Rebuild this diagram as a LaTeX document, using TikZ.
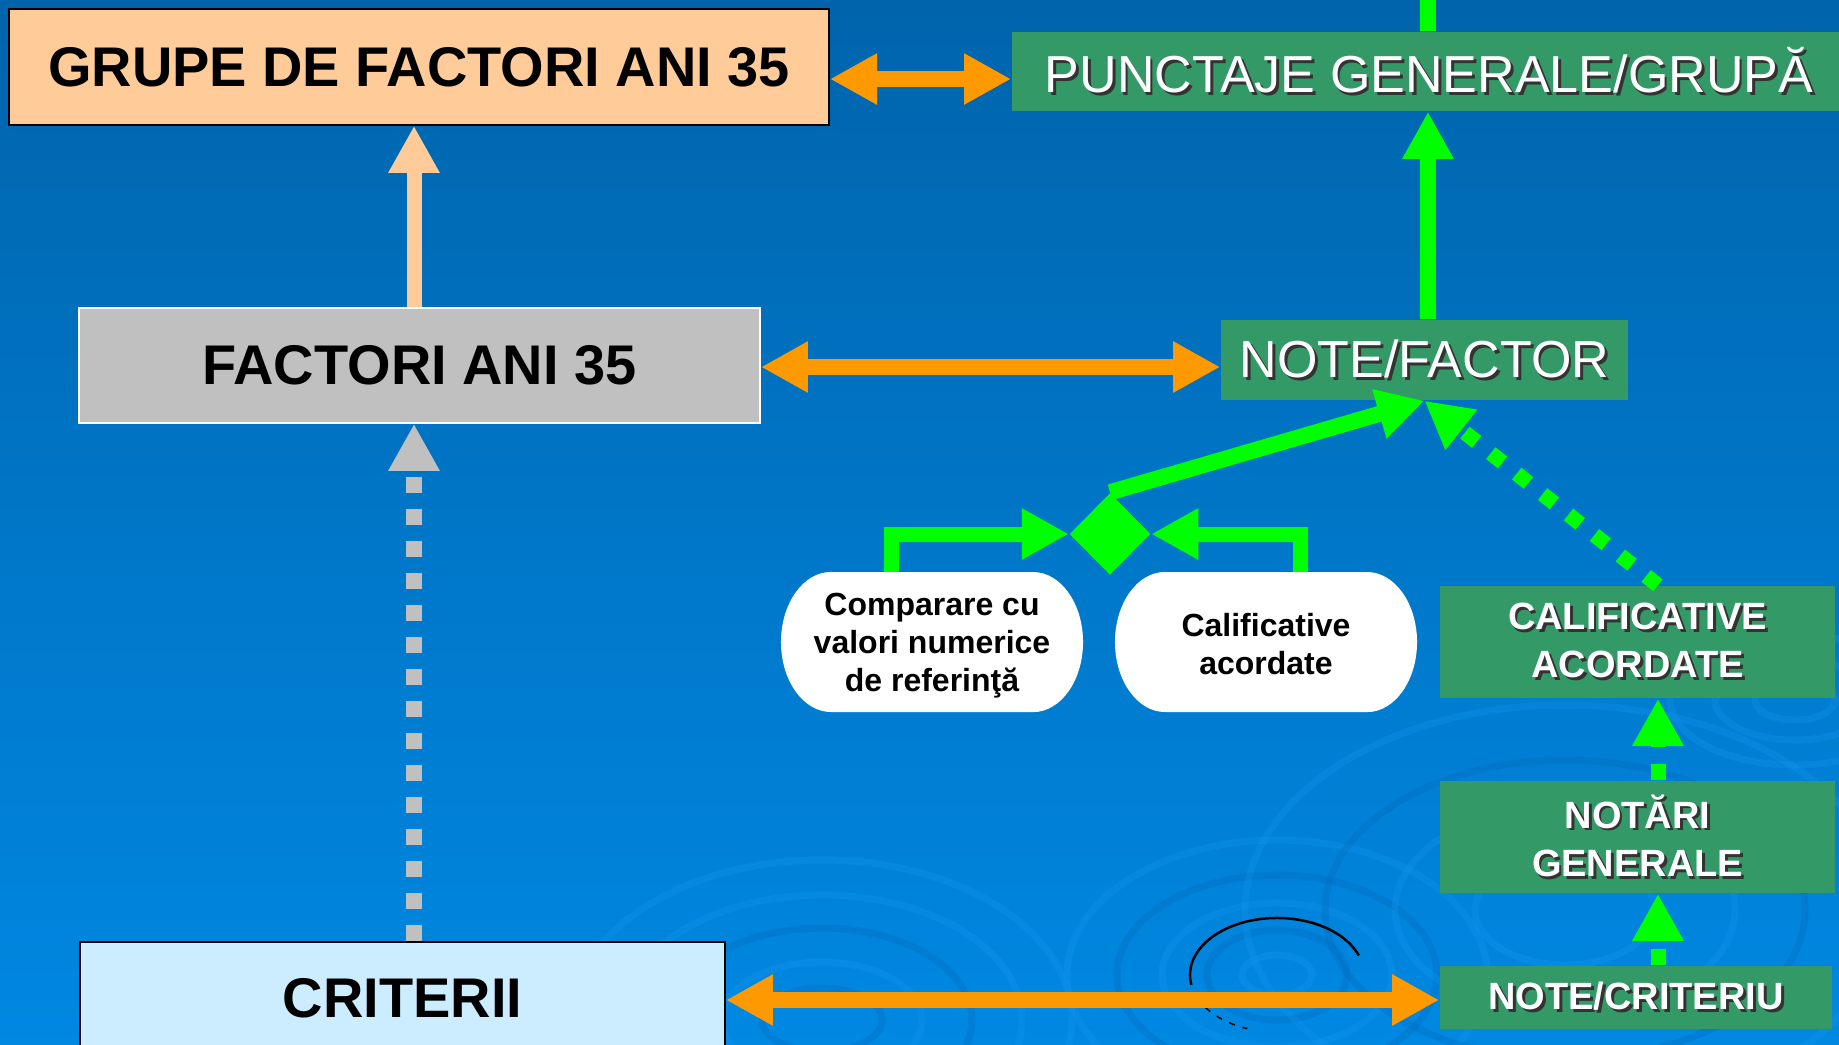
\documentclass[tikz,border=0pt]{standalone}
\usepackage{fontspec}
\setmainfont{Liberation Sans}
\usetikzlibrary{arrows.meta,shapes.geometric,calc}
\definecolor{bgtop}{RGB}{0,100,172}
\definecolor{bgbot}{RGB}{0,136,226}
\definecolor{peach}{HTML}{FFCC99}
\definecolor{grayb}{HTML}{C0C0C0}
\definecolor{lblue}{HTML}{CCECFF}
\definecolor{boxgreen}{HTML}{339966}
\definecolor{lime}{HTML}{00FF00}
\definecolor{orng}{HTML}{FF9900}
\definecolor{ripl}{RGB}{20,150,240}
\definecolor{ripd}{RGB}{0,105,185}
\newcommand\shd[1]{\leavevmode\rlap{\kern0.8pt\raisebox{-0.8pt}{\textcolor{black!80}{#1}}}#1}
\begin{document}
\begin{tikzpicture}[x=0.01cm,y=-0.01cm,
  tipa/.style={-{Triangle[length=4.7mm,width=4.8mm]}},
  dtipa/.style={{Triangle[length=4.7mm,width=4.8mm]}-{Triangle[length=4.7mm,width=4.8mm]}},
  bigtxt/.style={font=\fontsize{15.9}{19}\selectfont\bfseries, text=black},
  whitetxt/.style={font=\fontsize{14.8}{17}\selectfont, text=white},
  grntxt/.style={font=\fontsize{10.8}{13.66}\selectfont\bfseries, text=white, align=center},
  shapetxt/.style={font=\fontsize{9.1}{10.8}\selectfont\bfseries, text=black, align=center},
  gbox/.style={fill=boxgreen, inner sep=0pt},
  orarrow/.style={orng, line width=0.16cm, dtipa},
  grline/.style={lime, line width=0.16cm},
  ripple/.style={line width=0.07cm, opacity=0.3}
]
\useasboundingbox (0,0) rectangle (1839,1044);
\shade[top color=bgtop, bottom color=bgbot] (0,0) rectangle (1839,1044);
\clip (0,0) rectangle (1839,1044);

% background ripples
\foreach \rx/\ry/\c in {60/32/ripd, 100/58/ripl, 150/92/ripd, 200/125/ripl, 250/160/ripl}
  \draw[ripple, \c] (822,1020) ellipse [x radius=\rx*0.01cm, y radius=\ry*0.01cm];
\foreach \rx/\ry/\c in {35/20/ripl, 70/45/ripd, 115/72/ripl, 160/100/ripd, 210/135/ripl}
  \draw[ripple, \c] (1277,975) ellipse [x radius=\rx*0.01cm, y radius=\ry*0.01cm];
\foreach \rx/\ry/\c in {90/55/ripl, 170/105/ripl, 240/150/ripd, 320/205/ripl}
  \draw[ripple, \c] (1565,910) ellipse [x radius=\rx*0.01cm, y radius=\ry*0.01cm];
\foreach \rx/\ry/\c in {40/20/ripl, 80/40/ripl, 125/65/ripl}
  \draw[ripple, \c] (1795,700) ellipse [x radius=\rx*0.01cm, y radius=\ry*0.01cm];
\draw[black, line width=0.025cm] (1277,975) ++(20:0.87cm and 0.57cm)
  arc[start angle=20, end angle=190, x radius=0.87cm, y radius=0.57cm];
\draw[black, line width=0.015cm, dash pattern=on 0.06cm off 0.08cm] (1277,975) ++(215:0.87cm and 0.57cm)
  arc[start angle=215, end angle=250, x radius=0.87cm, y radius=0.57cm];

% white rounded shapes
\fill[white] (831,572) -- (1033,572) arc[start angle=90, end angle=-90, x radius=0.5cm, y radius=0.7cm]
  -- (831,712) arc[start angle=270, end angle=90, x radius=0.5cm, y radius=0.7cm] -- cycle;
\fill[white] (1165,572) -- (1367,572) arc[start angle=90, end angle=-90, x radius=0.5cm, y radius=0.7cm]
  -- (1165,712) arc[start angle=270, end angle=90, x radius=0.5cm, y radius=0.7cm] -- cycle;

% nodes
\node[draw=black, line width=0.015cm, fill=peach, minimum width=8.2cm, minimum height=1.16cm, bigtxt] (grupe) at (419,67) {GRUPE DE FACTORI ANI 35};
\node[draw=white, line width=0.015cm, fill=grayb, minimum width=6.81cm, minimum height=1.15cm, bigtxt] (factori) at (419.5,365.5) {FACTORI ANI 35};
\node[draw=black, line width=0.015cm, fill=lblue, minimum width=6.45cm, minimum height=1.12cm, bigtxt] (criterii) at (402.5,998) {CRITERII};
\node[gbox, minimum width=8.34cm, minimum height=0.79cm, whitetxt] (punctaje) at (1429,71.5) {\shd{PUNCTAJE GENERALE/GRUPĂ}};
\node[gbox, minimum width=4.07cm, minimum height=0.8cm, whitetxt] (notefactor) at (1424.5,360) {\shd{NOTE/FACTOR}};
\node[gbox, minimum width=3.95cm, minimum height=1.12cm, grntxt] (calif) at (1637.5,642) {\shd{CALIFICATIVE}\\\shd{ACORDATE}};
\node[gbox, minimum width=3.95cm, minimum height=1.12cm, grntxt] (notari) at (1637.5,837) {\shd{NOTĂRI}\\\shd{GENERALE}};
\node[gbox, minimum width=3.92cm, minimum height=0.63cm, grntxt] (notecrit) at (1636,997.5) {\shd{NOTE/CRITERIU}};
\node[minimum width=3.02cm, minimum height=1.4cm, shapetxt] (comp) at (932,646) {Comparare cu\\valori numerice\\de referinţă};
\node[minimum width=3.02cm, minimum height=1.4cm, shapetxt] (calacc) at (1266,644) {Calificative\\acordate};
\node[diamond, fill=lime, inner sep=0pt, minimum width=0.81cm, minimum height=0.82cm] (dia) at (1110,534) {};

% helper coordinates
\coordinate (px) at (414,0);
\coordinate (gx) at (1428,0);
\coordinate (gxtop) at (1428,-5);
\coordinate (vx) at (1658,0);
\coordinate (c1) at (891,0);
\coordinate (c2) at (1300,0);
\coordinate (ytop) at (0,572);
\coordinate (oy1) at (0,79);
\coordinate (oy2) at (0,367);
\coordinate (oy3) at (0,1000);

% connectors
\draw[peach, line width=0.15cm, tipa] (factori.north -| px) -- (grupe.south -| px);
\draw[grayb, line width=0.16cm, tipa, dash pattern=on 0.16cm off 0.16cm] (criterii.north -| px) -- (factori.south -| px);
\draw[orarrow] (grupe.east |- oy1) -- (punctaje.west |- oy1);
\draw[orarrow] (factori.east |- oy2) -- (notefactor.west |- oy2);
\draw[orarrow] (criterii.east |- oy3) -- (notecrit.west |- oy3);
\draw[grline] (punctaje.north -| gx) -- (gxtop);
\draw[grline, tipa] (notefactor.north -| gx) -- (punctaje.south -| gx);
\draw[grline, tipa] (dia.north) -- (notefactor.south);
\draw[lime, line width=0.15cm, tipa, dash pattern=on 0.15cm off 0.18cm] (calif.north -| vx) -- (notefactor.south);
\draw[lime, line width=0.15cm, tipa, dash pattern=on 0.16cm off 0.17cm] (notecrit.north -| vx) -- (notari.south -| vx);
\draw[lime, line width=0.15cm, tipa, dash pattern=on 0.16cm off 0.17cm] (notari.north -| vx) -- (calif.south -| vx);
\draw[lime, line width=0.15cm, tipa] (ytop -| c1) |- (dia.west);
\draw[lime, line width=0.15cm, tipa] (ytop -| c2) |- (dia.east);
\end{tikzpicture}
\end{document}
